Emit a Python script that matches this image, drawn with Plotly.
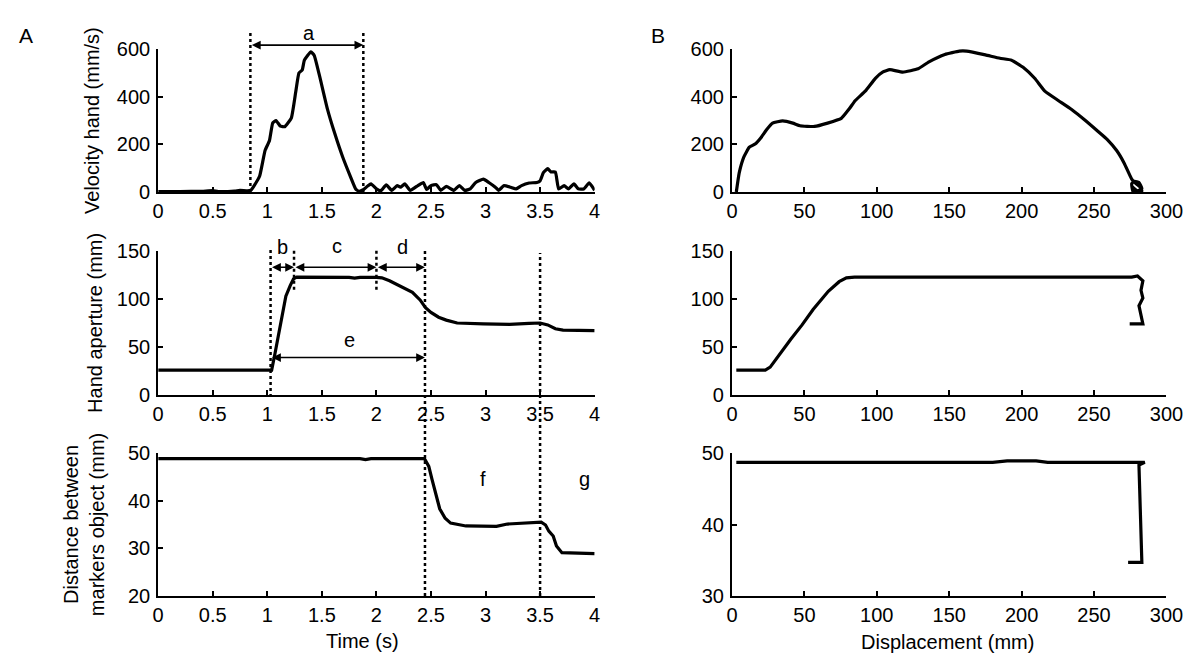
import plotly.graph_objects as go

# ---------------- data ----------------
vel_t = [0, 0.2, 0.4, 0.5, 0.55, 0.7, 0.75, 0.82, 0.85, 0.88, 0.93, 0.98, 1.02, 1.05, 1.08,
         1.12, 1.16, 1.22, 1.26, 1.29, 1.32, 1.34, 1.40, 1.43, 1.48, 1.55, 1.62, 1.69, 1.76,
         1.81, 1.84, 1.88, 1.92, 1.95, 2.0, 2.04, 2.09, 2.14, 2.19, 2.22, 2.26, 2.31, 2.38,
         2.43, 2.46, 2.5, 2.55, 2.59, 2.64, 2.71, 2.76, 2.81, 2.86, 2.91, 2.98, 3.03, 3.09,
         3.12, 3.17, 3.23, 3.28, 3.33, 3.40, 3.47, 3.5, 3.53, 3.57, 3.60, 3.64, 3.67, 3.72,
         3.76, 3.81, 3.85, 3.9, 3.95, 4.0]
vel_v = [2, 2, 3, 6, 2, 4, 7, 5, 8, 27, 67, 175, 216, 290, 300,
         276, 274, 310, 418, 499, 512, 553, 588, 573, 485, 350, 243, 148, 67,
         13, 3, 10, 25, 34, 13, 5, 30, 7, 27, 20, 34, 7, 27,
         40, 11, 27, 31, 7, 24, 7, 27, 7, 13, 40, 54, 40, 20,
         7, 27, 20, 13, 27, 38, 40, 47, 81, 98, 84, 84, 13, 27,
         13, 34, 13, 13, 38, 7]

ap_t = [0, 1.04, 1.07, 1.12, 1.17, 1.21, 1.24, 1.27, 1.5, 1.75, 1.8, 1.85, 2.0, 2.05, 2.12,
        2.22, 2.33, 2.40, 2.45, 2.5, 2.57, 2.64, 2.74, 2.98, 3.22, 3.4, 3.5, 3.57, 3.64, 3.71, 4.0]
ap_v = [26, 26, 43, 73, 103, 114, 121, 122.7, 122.7, 122.5, 121.7, 122.5, 122.5, 122, 119,
        113, 107, 99, 91, 86, 81, 78, 75, 74, 73.5, 74.5, 75, 73, 69, 67.5, 67]

dist_t = [0, 1.85, 1.9, 1.95, 2.44, 2.48, 2.51, 2.55, 2.58, 2.63, 2.68, 2.82, 3.1, 3.2, 3.51,
          3.55, 3.58, 3.62, 3.65, 3.7, 4.0]
dist_v = [48.8, 48.8, 48.6, 48.8, 48.8, 47.2, 44.4, 41.0, 38.3, 36.3, 35.3, 34.7, 34.6, 35.1,
          35.5, 34.9, 33.6, 32.6, 30.5, 29.1, 28.9]

dv_x = [3, 5, 8.3, 12, 16, 20, 24, 28, 35, 42, 47, 57, 66, 75.5, 81, 85, 92, 99, 104, 109,
        118, 128.5, 136, 147, 157, 162, 175, 185, 193, 201, 209, 216, 225.5, 234.5, 243.6,
        252.6, 259, 265.6, 270.8, 276, 278, 280, 282, 283, 281, 277, 276, 278, 281, 283, 280, 276]
dv_y = [0, 80, 148, 188, 201, 228, 262, 289, 298, 289, 278, 275, 289, 309, 349, 383, 423, 477,
        503, 513, 503, 517, 546, 577, 591, 591, 575, 561, 553, 523, 477, 423, 383, 346, 302,
        255, 221, 174, 121, 54, 40, 30, 20, 5, 0, 0, 35, 45, 40, 15, 5, 25]

da_x = [3, 23, 26.4, 33, 40.6, 48.4, 56, 66.5, 74, 79, 84.6, 180, 276, 280, 283.7, 282.4,
        283.7, 281, 282.4, 283.7, 274.6]
da_y = [26, 26, 29, 43, 58, 73, 89, 108, 118, 122, 122.7, 122.7, 122.7, 124, 119, 109, 101,
        93, 83, 74, 74]

dd_x = [3, 180, 190, 210, 218, 280, 285, 281, 283, 273.5]
dd_y = [48.7, 48.7, 48.9, 48.9, 48.7, 48.7, 48.7, 48.3, 34.7, 34.7]

left_xticks = [0, 0.5, 1, 1.5, 2, 2.5, 3, 3.5, 4]
right_xticks = [0, 50, 100, 150, 200, 250, 300]

# ---------------- layout geometry ----------------
W, H = 1200, 658
def px_x(p):
    return p / W
def px_y(p):
    return 1 - p / H

left_dom = [px_x(147), px_x(592)]
right_dom = [px_x(732), px_x(1175)]
rows = [(31, 179), (240, 389), (449, 597)]
ydoms = [[px_y(b), px_y(t)] for t, b in rows]

FONT = "Liberation Sans, Arial, sans-serif"
FS = 20     # tick labels
FT = 20     # titles
LW = 3.2

fig = go.Figure()
traces = [
    (vel_t, vel_v, "x", "y", "spline"),
    (dv_x, dv_y, "x2", "y2", "spline"),
    (ap_t, ap_v, "x3", "y3", "linear"),
    (da_x, da_y, "x4", "y4", "linear"),
    (dist_t, dist_v, "x5", "y5", "linear"),
    (dd_x, dd_y, "x6", "y6", "linear"),
]
for xs, ys, xa, ya, shp in traces:
    line = dict(color="black", width=LW, shape=shp)
    if shp == "spline":
        line["smoothing"] = 0.4
    fig.add_trace(go.Scatter(x=xs, y=ys, xaxis=xa, yaxis=ya, mode="lines",
                             line=line, showlegend=False, hoverinfo="skip"))

common_axis = dict(showline=True, linecolor="black", linewidth=2, showgrid=False,
                   zeroline=False, ticks="inside", ticklen=5, tickwidth=1.5,
                   tickcolor="black", tickfont=dict(family=FONT, size=FS, color="black"),
                   mirror=False)

yranges = [[0, 600], [0, 600], [0, 150], [0, 150], [20, 50], [30, 50]]
ydticks = [200, 200, 50, 50, 10, 10]
layout = {}
for i in range(6):
    col = i % 2
    row = i // 2
    xname = "xaxis" if i == 0 else f"xaxis{i+1}"
    yname = "yaxis" if i == 0 else f"yaxis{i+1}"
    xid = "x" if i == 0 else f"x{i+1}"
    yid = "y" if i == 0 else f"y{i+1}"
    if col == 0:
        xa = dict(common_axis, domain=left_dom, range=[0, 4], tickvals=left_xticks,
                  ticktext=[f"{v:g}" for v in left_xticks], anchor=yid, ticklabelstandoff=0)
    else:
        xa = dict(common_axis, domain=right_dom, range=[0, 300], tickvals=right_xticks,
                  ticktext=[str(v) for v in right_xticks], anchor=yid, ticklabelstandoff=0)
    ya = dict(common_axis, domain=ydoms[row], range=yranges[i], dtick=ydticks[i],
              tick0=yranges[i][0], anchor=xid, ticklabelstandoff=2)
    layout[xname] = xa
    layout[yname] = ya

fig.update_layout(**layout)

# ---------------- dotted markers ----------------
dot = dict(color="black", width=2.5, dash="dot")
vlines = [  # (axis, t, top_px, bottom_px)
    ("x", 0.845, 13, 179),
    ("x", 1.88, 13, 179),
    ("x3", 1.03, 237, 391),
    ("x3", 1.245, 237, 280),
    ("x3", 2.0, 237, 280),
    ("x3", 2.445, 240, 597),
    ("x3", 3.5, 242, 597),
]
shapes = []
for ax, t, tp, bt in vlines:
    shapes.append(dict(type="line", xref=ax, yref="paper", x0=t, x1=t,
                       y0=px_y(bt), y1=px_y(tp), line=dot, layer="above"))
fig.update_layout(shapes=shapes)

anns = []
def darrow(xref, x0, x1, yref, y):
    anns.append(dict(xref=xref, yref=yref, x=x1, y=y, axref=xref, ayref="pixel",
                     ax=x0, ay=0, text="", showarrow=True, arrowhead=2, startarrowhead=2,
                     arrowside="end+start", arrowsize=1.1, arrowwidth=1.6,
                     arrowcolor="black", standoff=0, startstandoff=0))

def label(xref, x, yref, y, text, size=FT):
    anns.append(dict(xref=xref, yref=yref, x=x, y=y, text=text, showarrow=False,
                     font=dict(family=FONT, size=size, color="black"),
                     xanchor="center", yanchor="middle"))

darrow("x", 0.845, 1.88, "paper", px_y(27))
label("x", 1.38, "paper", px_y(15), "a")
darrow("x3", 1.03, 1.245, "y3", 133)
darrow("x3", 1.245, 2.0, "y3", 133)
darrow("x3", 2.0, 2.445, "y3", 133)
darrow("x3", 1.03, 2.445, "y3", 39)
label("x3", 1.14, "paper", px_y(236), "b")
label("x3", 1.64, "paper", px_y(235), "c")
label("x3", 2.24, "paper", px_y(236), "d")
label("x3", 1.75, "paper", px_y(332), "e")
label("x5", 2.98, "y5", 44.5, "f")
label("x5", 3.91, "y5", 44.5, "g")

# panel letters
label("paper", px_x(12), "paper", px_y(17), "A", 21)
label("paper", px_x(657), "paper", px_y(17), "B", 21)

# axis titles
def ytitle(x, y, text):
    anns.append(dict(xref="paper", yref="paper", x=px_x(x), y=px_y(y), text=text,
                     showarrow=False, textangle=-90,
                     font=dict(family=FONT, size=FT, color="black"),
                     xanchor="center", yanchor="middle"))
ytitle(80, 105, "Velocity hand (mm/s)")
ytitle(82, 314, "Hand aperture (mm)")
ytitle(71, 523, "Distance between<br>markers object (mm)")
label("paper", px_x(355), "paper", px_y(643), "Time (s)")
label("paper", px_x(952), "paper", px_y(645), "Displacement (mm)")

fig.update_layout(annotations=anns, width=W, height=H,
                  margin=dict(l=0, r=0, t=0, b=0),
                  paper_bgcolor="white", plot_bgcolor="white",
                  font=dict(family=FONT, size=FS, color="black"))

fig.write_html("out.html")
